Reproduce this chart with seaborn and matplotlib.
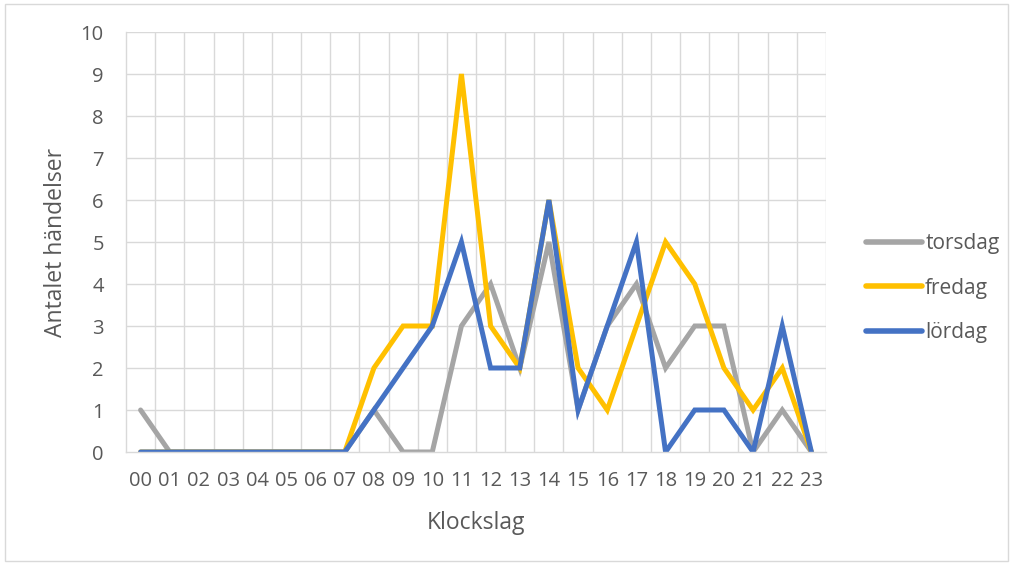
import numpy as np
import pandas as pd
import seaborn as sns
import matplotlib.pyplot as plt
from matplotlib.patches import Rectangle

hours = [f"{h:02d}" for h in range(24)]
torsdag = [1, 0, 0, 0, 0, 0, 0, 0, 1, 0, 0, 3, 4, 2, 5, 1, 3, 4, 2, 3, 3, 0, 1, 0]
fredag = [0, 0, 0, 0, 0, 0, 0, 0, 2, 3, 3, 9, 3, 2, 6, 2, 1, 3, 5, 4, 2, 1, 2, 0]
lordag = [0, 0, 0, 0, 0, 0, 0, 0, 1, 2, 3, 5, 2, 2, 6, 1, 3, 5, 0, 1, 1, 0, 3, 0]
series_names = ["torsdag", "fredag", "lördag"]
colors = ["#A5A5A5", "#FFC000", "#4472C4"]

frames = []
for name, vals in zip(series_names, [torsdag, fredag, lordag]):
    frames.append(pd.DataFrame({"pos": np.arange(len(hours)), "Klockslag": hours,
                                "value": vals, "dag": name}))
df = pd.concat(frames, ignore_index=True)

sns.set_theme(style="white")
plt.rcParams["font.family"] = ["Open Sans", "DejaVu Sans"]
text_color = "#595959"
grid_color = "#D9D9D9"

fig = plt.figure(figsize=(10.14, 5.67), dpi=100)
ax = fig.add_axes([126 / 1014, 1 - 452 / 567, 700 / 1014, 420 / 567])

sns.lineplot(data=df, x="pos", y="value", hue="dag", hue_order=series_names,
             palette=colors, linewidth=3.6, ax=ax, legend=True,
             solid_capstyle="round", solid_joinstyle="miter")

ax.set_xlim(-0.5, len(hours) - 0.5)
ax.set_ylim(0, 10)
ax.set_yticks(range(0, 11))
ax.set_xticks(range(len(hours)))
ax.set_xticklabels(hours)

# gridlines: horizontal at each integer, vertical at category boundaries
for y in range(1, 11):
    ax.axhline(y, color=grid_color, linewidth=1.0, zorder=0)
for b in np.arange(0.5, len(hours) - 0.5, 1.0):
    ax.axvline(b, color=grid_color, linewidth=1.0, zorder=0)
ax.axvline(len(hours) - 0.5, color=grid_color, linewidth=1.0, zorder=0)

for s in ["top", "right"]:
    ax.spines[s].set_visible(False)
ax.spines["left"].set_color(grid_color)
ax.spines["bottom"].set_color(grid_color)
ax.spines["left"].set_linewidth(1.0)
ax.spines["bottom"].set_linewidth(1.0)

ax.tick_params(axis="both", length=0, labelsize=14.5, colors=text_color)
ax.tick_params(axis="x", pad=14)
ax.tick_params(axis="y", pad=16)
ax.set_xlabel("Klockslag", fontsize=16.5, color=text_color, labelpad=14)
ax.set_ylabel("Antalet händelser", fontsize=16.5, color=text_color, labelpad=9)

leg = ax.legend(loc="center left", bbox_to_anchor=(1.045, 0.39), frameon=False,
                fontsize=15, handlelength=2.7, handletextpad=0.15,
                labelspacing=1.12, borderaxespad=0, labelcolor=text_color)
for line in leg.get_lines():
    line.set_linewidth(4.0)
    line.set_solid_capstyle("round")

fig.patches.append(Rectangle((5 / 1014, 6 / 567), 1003 / 1014, 557 / 567,
                             transform=fig.transFigure, fill=False,
                             edgecolor=grid_color, linewidth=1.0))

fig.savefig("out.png", dpi=100)
